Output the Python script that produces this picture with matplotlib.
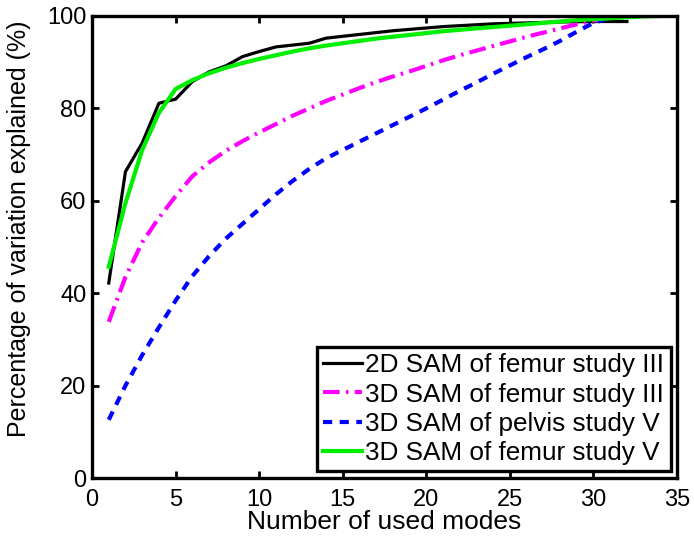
import matplotlib
matplotlib.use("Agg")
import matplotlib.pyplot as plt

plt.rcParams['font.family'] = ['Liberation Sans', 'DejaVu Sans']

modes_2d_femur_III = list(range(1, 33))
vals_2d_femur_III = [42.2, 66.3, 72.5, 81.1, 82.0, 85.8, 87.9, 89.2, 91.2, 92.3,
                     93.3, 93.7, 94.1, 95.2, 95.6, 96.0, 96.4, 96.8, 97.1, 97.4,
                     97.7, 97.9, 98.1, 98.3, 98.4, 98.5, 98.6, 98.7, 98.75, 98.8,
                     98.8, 98.8]

modes_3d_femur_III = list(range(1, 33))
vals_3d_femur_III = [33.8, 43.5, 51.0, 56.3, 61.0, 65.3, 68.3, 70.8, 72.9, 74.8,
                     76.6, 78.4, 80.0, 81.6, 83.0, 84.4, 85.7, 86.9, 88.0, 89.2,
                     90.4, 91.5, 92.5, 93.5, 94.5, 95.5, 96.4, 97.3, 98.2, 99.0,
                     99.6, 100.0]

modes_3d_pelvis_V = list(range(1, 33))
vals_3d_pelvis_V = [12.6, 20.0, 26.6, 32.6, 38.4, 43.7, 48.0, 51.8, 55.0, 58.2,
                    61.4, 64.3, 66.9, 69.2, 71.0, 72.8, 74.6, 76.4, 78.2, 80.0,
                    81.9, 83.8, 85.6, 87.5, 89.3, 91.1, 92.8, 94.6, 96.6, 98.5,
                    99.6, 100.0]

modes_3d_femur_V = list(range(1, 35))
vals_3d_femur_V = [45.7, 59.5, 71.0, 79.0, 84.2, 86.1, 87.6, 88.8, 89.8, 90.7,
                   91.5, 92.3, 93.0, 93.6, 94.1, 94.6, 95.1, 95.5, 95.9, 96.3,
                   96.7, 97.0, 97.3, 97.6, 97.9, 98.2, 98.5, 98.8, 99.1, 99.3,
                   99.5, 99.7, 99.9, 100.0]

labels = ["2D SAM of femur study III", "3D SAM of femur study III",
          "3D SAM of pelvis study V", "3D SAM of femur study V"]
xticks = [0, 5, 10, 15, 20, 25, 30, 35]
yticks = [0, 20, 40, 60, 80, 100]

fig = plt.figure(figsize=(6.94, 5.36), dpi=100)
ax = fig.add_axes([0.1326, 0.1082, 0.843, 0.862])

ax.plot(modes_2d_femur_III, vals_2d_femur_III, color='black', lw=2.3, label=labels[0])
ax.plot(modes_3d_femur_III, vals_3d_femur_III, color='#ff00ff', lw=3.0,
        dashes=(4, 1.5, 0.6, 1.5), label=labels[1])
ax.plot(modes_3d_pelvis_V, vals_3d_pelvis_V, color='#0000ff', lw=3.0,
        dashes=(2.2, 1.8), label=labels[2])
ax.plot(modes_3d_femur_V, vals_3d_femur_V, color='#00ee00', lw=3.0, label=labels[3])

ax.set_xlim(0, 35)
ax.set_ylim(0, 100)
ax.set_xticks(xticks)
ax.set_yticks(yticks)
ax.tick_params(direction='in', length=5, width=2, labelsize=17,
               top=True, right=True)
ax.tick_params(axis='x', pad=8)
ax.tick_params(axis='y', pad=4)
for s in ax.spines.values():
    s.set_linewidth(2.4)

ax.set_xlabel("Number of used modes", fontsize=19, labelpad=-1)
ax.set_ylabel("Percentage of variation explained (%)", fontsize=18)
ax.yaxis.set_label_coords(-0.104, 0.539)

leg = ax.legend(loc='lower right', fontsize=18.8, frameon=True, fancybox=False,
                framealpha=1.0, handlelength=1.5, handletextpad=0.1,
                borderpad=0.25, labelspacing=0.2, borderaxespad=0.25)
leg.get_frame().set_edgecolor('black')
leg.get_frame().set_linewidth(2.4)

fig.savefig("out.png", dpi=100)
